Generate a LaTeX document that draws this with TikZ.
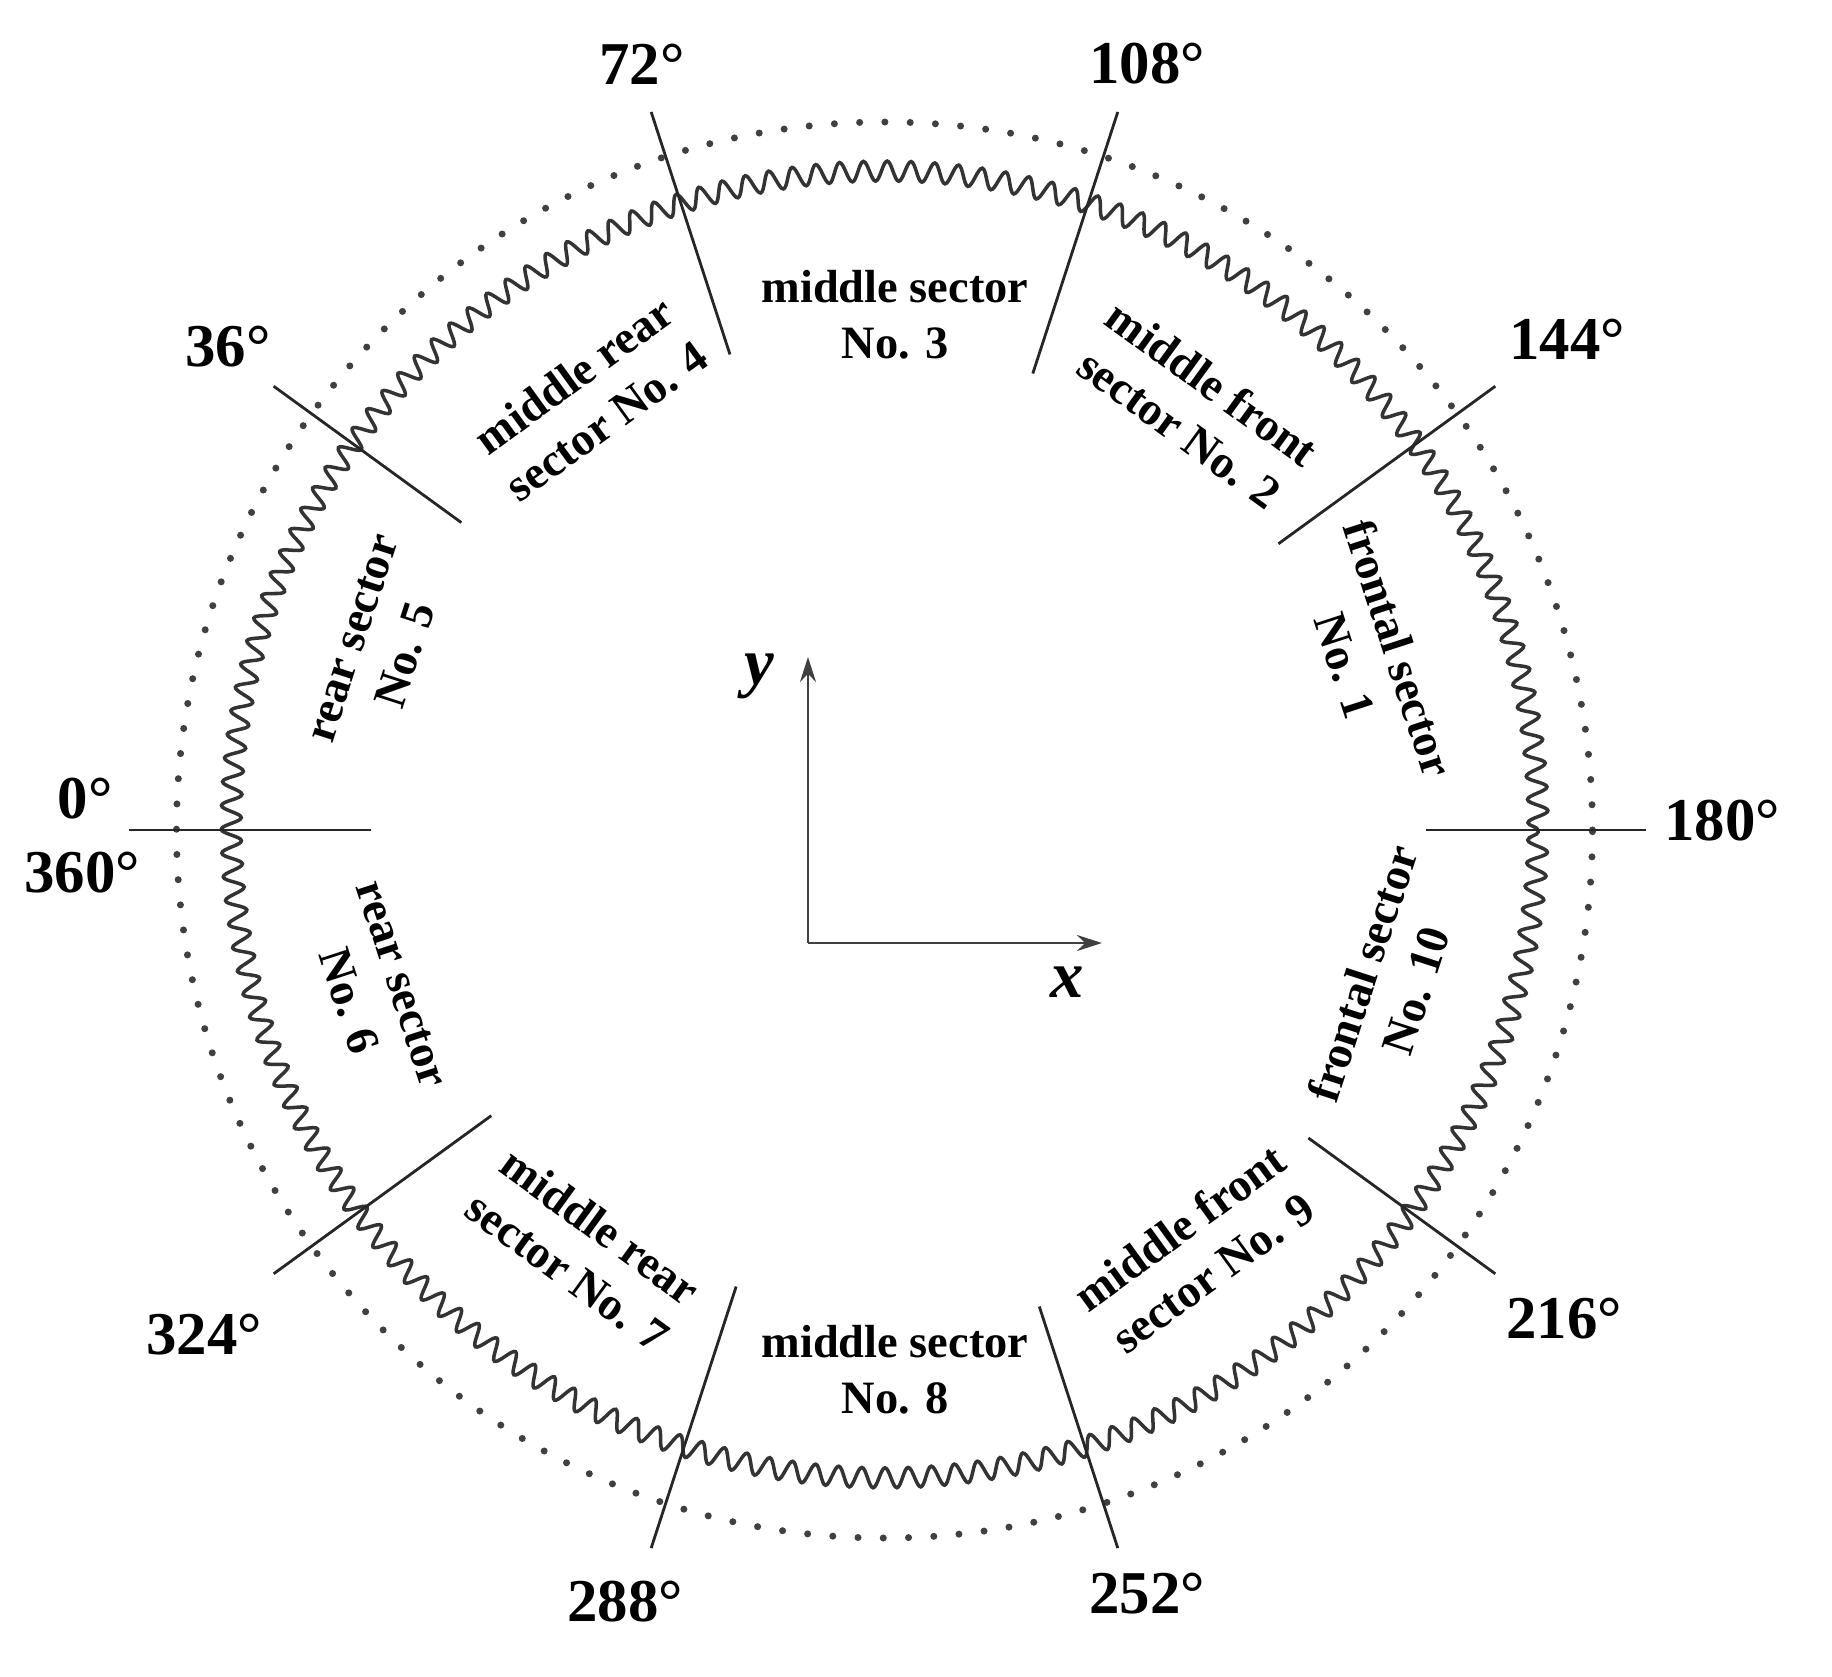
\documentclass[tikz,border=0pt]{standalone}
\usepackage{fontspec}
\setmainfont{Liberation Serif}
\usetikzlibrary{decorations.pathmorphing,arrows.meta}
\tikzstyle{divider} = [line width=0.8pt, draw=black!85]
\tikzstyle{wavy} = [line width=1pt, draw=black!80, decorate, decoration={snake, segment length=2.35mm, amplitude=1mm}]
\tikzstyle{dotring} = [line width=2pt, draw=black!75, line cap=round, dash pattern=on 0pt off 7.19pt]
\tikzstyle{degreelabel} = [font=\bfseries\fontsize{17.3}{20}\selectfont, inner sep=0pt]
\tikzstyle{sectorlabel} = [font=\bfseries\fontsize{13.2}{16}\selectfont, align=center, inner sep=0pt]
\tikzstyle{axisline} = [line width=0.6pt, draw=black!75, -{Stealth[length=2.5mm,width=1.6mm]}]

\begin{document}
\begin{tikzpicture}
    \useasboundingbox (-8.845,-8.46) rectangle (9.475,8.30);
    \draw[wavy] (0,0) circle (6.535);
    \draw[dotring] (0,0) circle (7.08);
    \draw[divider] (180:5.13) -- (180:7.55);
    \draw[divider] (144:5.23) -- (144:7.55);
    \draw[divider] (108:5.0) -- (108:7.55);
    \draw[divider] (72:4.8) -- (72:7.55);
    \draw[divider] (36:4.87) -- (36:7.55);
    \draw[divider] (0:5.42) -- (0:7.62);
    \draw[divider] (-36:5.24) -- (-36:7.55);
    \draw[divider] (-72:5.01) -- (-72:7.55);
    \draw[divider] (-108:4.8) -- (-108:7.55);
    \draw[divider] (-144:4.86) -- (-144:7.55);
    \node (deg0) [degreelabel] at (-7.995,0.31) {0°};
    \node (deg360) [degreelabel] at (-8.025,-0.43) {360°};
    \node (deg36) [degreelabel] at (-6.565,4.83) {36°};
    \node (deg72) [degreelabel] at (-2.425,7.66) {72°};
    \node (deg108) [degreelabel] at (2.625,7.66) {108°};
    \node (deg144) [degreelabel] at (6.825,4.91) {144°};
    \node (deg180) [degreelabel] at (8.375,0.09) {180°};
    \node (deg216) [degreelabel] at (6.795,-4.89) {216°};
    \node (deg252) [degreelabel] at (2.625,-7.64) {252°};
    \node (deg288) [degreelabel] at (-2.595,-7.72) {288°};
    \node (deg324) [degreelabel] at (-6.805,-5.05) {324°};
    \node (sec1) [sectorlabel,rotate=-72] at (4.875,1.73) {frontal sector\\No. 1};
    \node (sec2) [sectorlabel,rotate=-36] at (3.115,4.24) {middle front\\sector No. 2};
    \node (sec3) [sectorlabel] at (0.105,5.15) {middle sector\\No. 3};
    \node (sec4) [sectorlabel,rotate=36] at (-2.945,4.32) {middle rear\\sector No. 4};
    \node (sec5) [sectorlabel,rotate=72] at (-5.045,1.83) {rear sector\\No. 5};
    \node (sec6) [sectorlabel,rotate=-72] at (-5.105,-1.63) {rear sector\\No. 6};
    \node (sec7) [sectorlabel,rotate=-36] at (-3.005,-4.19) {middle rear\\sector No. 7};
    \node (sec8) [sectorlabel] at (0.105,-5.4) {middle sector\\No. 8};
    \node (sec9) [sectorlabel,rotate=36] at (3.115,-4.20) {middle front\\sector No. 9};
    \node (sec10) [sectorlabel,rotate=72] at (5.045,-1.52) {frontal sector\\No. 10};
    \coordinate (origin) at (-0.765,-1.13);
    \coordinate (ytip) at (-0.765,1.73);
    \coordinate (xtip) at (2.175,-1.13);
    \draw[axisline] (origin) -- (ytip);
    \draw[axisline] (origin) -- (xtip);
    \node (ylabel) [font=\bfseries\itshape\fontsize{19}{22}\selectfont] at (-1.255,1.54) {y};
    \node (xlabel) [font=\bfseries\itshape\fontsize{19}{22}\selectfont] at (1.825,-1.52) {x};
\end{tikzpicture}
\end{document}
